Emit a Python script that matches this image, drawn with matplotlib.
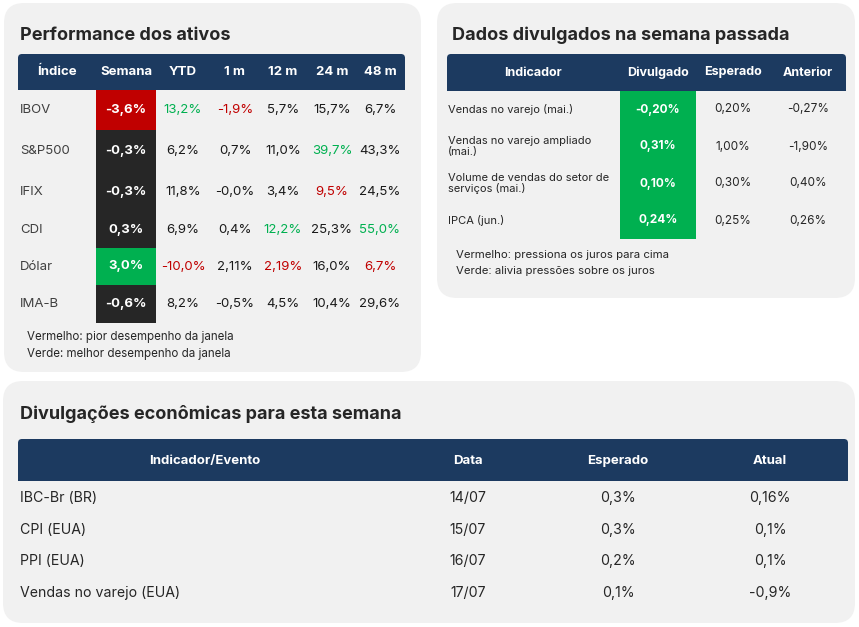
import matplotlib.pyplot as plt
from matplotlib.patches import FancyBboxPatch, Rectangle

# --- data -------------------------------------------------------------
perf_title = "Performance dos ativos"
perf_header = ["Índice", "Semana", "YTD", "1 m", "12 m", "24 m", "48 m"]
perf_assets = ["IBOV", "S&P500", "IFIX", "CDI", "Dólar", "IMA-B"]
perf_semana = ["-3,6%", "-0,3%", "-0,3%", "0,3%", "3,0%", "-0,6%"]
perf_ytd = ["13,2%", "6,2%", "11,8%", "6,9%", "-10,0%", "8,2%"]
perf_1m = ["-1,9%", "0,7%", "-0,0%", "0,4%", "2,11%", "-0,5%"]
perf_12m = ["5,7%", "11,0%", "3,4%", "12,2%", "2,19%", "4,5%"]
perf_24m = ["15,7%", "39,7%", "9,5%", "25,3%", "16,0%", "10,4%"]
perf_48m = ["6,7%", "43,3%", "24,5%", "55,0%", "6,7%", "29,6%"]
# row index of worst / best per value column (Semana, YTD, 1m, 12m, 24m, 48m)
perf_worst = [0, 4, 0, 4, 2, 4]
perf_best = [4, 0, None, 3, 1, 3]
perf_notes = ["Vermelho: pior desempenho da janela",
              "Verde: melhor desempenho da janela"]

last_title = "Dados divulgados na semana passada"
last_header = ["Indicador", "Divulgado", "Esperado", "Anterior"]
last_ind = ["Vendas no varejo (mai.)",
            "Vendas no varejo ampliado\n(mai.)",
            "Volume de vendas do setor de\nserviços (mai.)",
            "IPCA (jun.)"]
last_divulgado = ["-0,20%", "0,31%", "0,10%", "0,24%"]
last_esperado = ["0,20%", "1,00%", "0,30%", "0,25%"]
last_anterior = ["-0,27%", "-1,90%", "0,40%", "0,26%"]
last_notes = ["Vermelho: pressiona os juros para cima",
              "Verde: alivia pressões sobre os juros"]

week_title = "Divulgações econômicas para esta semana"
week_header = ["Indicador/Evento", "Data", "Esperado", "Atual"]
week_events = ["IBC-Br (BR)", "CPI (EUA)", "PPI (EUA)", "Vendas no varejo (EUA)"]
week_dates = ["14/07", "15/07", "16/07", "17/07"]
week_esperado = ["0,3%", "0,3%", "0,2%", "0,1%"]
week_atual = ["0,16%", "0,1%", "0,1%", "-0,9%"]

# --- style ------------------------------------------------------------
PANEL = '#f1f1f1'
NAVY = '#1c3a60'
RED = '#c00000'
GREEN = '#00b050'
DARK = '#262626'
TXT = '#262626'
FONT = ['Inter', 'DejaVu Sans']

plt.rcParams['font.family'] = FONT
fig = plt.figure(figsize=(8.59, 6.27), dpi=100)
ax = fig.add_axes([0, 0, 1, 1])
ax.set_xlim(0, 859)
ax.set_ylim(627, 0)
ax.axis('off')


def panel(x0, y0, x1, y1):
    ax.add_patch(FancyBboxPatch((x0, y0), x1 - x0, y1 - y0,
                                boxstyle='round,pad=0,rounding_size=20',
                                fc=PANEL, ec='none'))


def header(x0, y0, x1, y1):
    ax.add_patch(FancyBboxPatch((x0, y0), x1 - x0, y1 - y0,
                                boxstyle='round,pad=0,rounding_size=4',
                                fc=NAVY, ec='none'))
    ax.add_patch(Rectangle((x0, y0 + 6), x1 - x0, y1 - y0 - 6,
                           fc=NAVY, ec='none'))


# --- panel 1: performance ---------------------------------------------
panel(4, 3, 421, 372)
ax.text(20, 35, perf_title, fontsize=13, weight='bold', color=TXT,
        va='center', ha='left')
header(18, 54, 405, 90)
col_x = [57, 126, 183, 235, 283, 332, 380]
for x, h in zip(col_x, perf_header):
    ax.text(x, 72, h, fontsize=9.5, weight='bold', color='white',
            ha='center', va='center')

row_edges = [90, 130, 172, 212, 248, 285, 323]
columns = [perf_semana, perf_ytd, perf_1m, perf_12m, perf_24m, perf_48m]
for i, name in enumerate(perf_assets):
    yc = (row_edges[i] + row_edges[i + 1]) / 2
    ax.text(20, yc, name, fontsize=9.5, color='#404040', ha='left', va='center')
    for j, col in enumerate(columns):
        worst = perf_worst[j] == i
        best = perf_best[j] == i
        if j == 0:
            fc = RED if worst else GREEN if best else DARK
            ax.add_patch(Rectangle((96, row_edges[i]), 60,
                                   row_edges[i + 1] - row_edges[i],
                                   fc=fc, ec='none'))
            ax.text(col_x[1], yc, col[i], fontsize=9.5, weight='bold',
                    color='white', ha='center', va='center')
        else:
            c = RED if worst else GREEN if best else '#1a1a1a'
            ax.text(col_x[j + 1], yc, col[i], fontsize=9.5, color=c,
                    ha='center', va='center')

for k, note in enumerate(perf_notes):
    ax.text(27, 337 + 17 * k, note, fontsize=8.3, color=TXT, ha='left',
            va='center')

# --- panel 2: last week's releases ------------------------------------
panel(437, 3, 855, 298)
ax.text(452, 35, last_title, fontsize=13, weight='bold', color=TXT,
        va='center', ha='left')
header(447, 54, 846, 91)
col2_x = [533, 658, 733, 808]
for x, h in zip(col2_x, last_header):
    ax.text(x, 72.5, h, fontsize=9, weight='bold', color='white',
            ha='center', va='center')
ax.add_patch(Rectangle((620, 91), 76, 148, fc=GREEN, ec='none'))
for i, name in enumerate(last_ind):
    yc = 91 + 37 * (i + 0.5)
    ax.text(448, yc, name, fontsize=8, color=TXT, ha='left', va='center',
            linespacing=1.1)
    ax.text(col2_x[1], yc, last_divulgado[i], fontsize=8.5, weight='bold',
            color='white', ha='center', va='center')
    ax.text(col2_x[2], yc, last_esperado[i], fontsize=8.5, color=TXT,
            ha='center', va='center')
    ax.text(col2_x[3], yc, last_anterior[i], fontsize=8.5, color=TXT,
            ha='center', va='center')
for k, note in enumerate(last_notes):
    ax.text(456, 255 + 16.5 * k, note, fontsize=8.2, color=TXT, ha='left',
            va='center')

# --- panel 3: this week's calendar ------------------------------------
panel(3, 381, 855, 623)
ax.text(20, 414, week_title, fontsize=13, weight='bold', color=TXT,
        va='center', ha='left')
header(18, 439, 848, 481)
col3_x = [205, 468, 618, 770]
for x, h in zip(col3_x, week_header):
    ax.text(x, 461, h, fontsize=9.5, weight='bold', color='white',
            ha='center', va='center')
for i, name in enumerate(week_events):
    yc = 498 + 31.7 * i
    ax.text(20, yc, name, fontsize=10.2, color=TXT, ha='left', va='center')
    ax.text(col3_x[1], yc, week_dates[i], fontsize=10.2, color=TXT,
            ha='center', va='center')
    ax.text(col3_x[2], yc, week_esperado[i], fontsize=10.2, color=TXT,
            ha='center', va='center')
    ax.text(col3_x[3], yc, week_atual[i], fontsize=10.2, color=TXT,
            ha='center', va='center')

fig.savefig('out.png', dpi=100, facecolor='white')
